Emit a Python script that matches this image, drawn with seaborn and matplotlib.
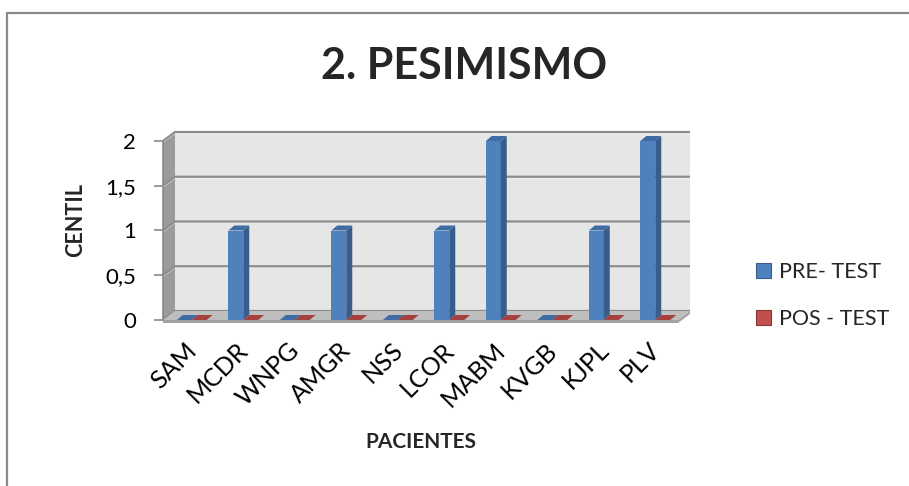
import matplotlib
matplotlib.use("Agg")
import matplotlib.pyplot as plt
import matplotlib.transforms as mtransforms
from matplotlib.patches import Polygon, Patch
from matplotlib.lines import Line2D
import pandas as pd
import seaborn as sns

# ---- data ----
pacientes = ["SAM", "MCDR", "WNPG", "AMGR", "NSS", "LCOR", "MABM", "KVGB", "KJPL", "PLV"]
pre_test = [0, 1, 0, 1, 0, 1, 2, 0, 1, 2]
pos_test = [0, 0, 0, 0, 0, 0, 0, 0, 0, 0]
series = ["PRE- TEST", "POS - TEST"]
y_ticks = [0, 0.5, 1, 1.5, 2]
y_tick_labels = ["0", "0,5", "1", "1,5", "2"]

df = pd.DataFrame({
    "Paciente": pacientes * 2,
    "Centil": pre_test + pos_test,
    "Prueba": [series[0]] * len(pacientes) + [series[1]] * len(pacientes),
})

# ---- style ----
sns.set_theme(style="white")
plt.rcParams["font.family"] = ["Lato", "DejaVu Sans"]

FRONT = {series[0]: "#4F81BD", series[1]: "#C0504D"}
SIDE = {series[0]: "#385D8A", series[1]: "#8C3836"}
TOP = {series[0]: "#3E6CA3", series[1]: "#A4403D"}
WALL = "#E6E6E6"
SIDE_WALL = "#9B9B9B"
FLOOR_TOP = "#BEBEBE"
FLOOR_FRONT = "#A3A3A3"
GRID = "#8C8C8C"

W, H = 909, 486
fig = plt.figure(figsize=(W / 100, H / 100), dpi=100)
fig.patch.set_facecolor("white")

# outer chart frame (top and left edges)
fig.add_artist(Line2D([7.5 / W, 7.5 / W], [0, 1 - 13 / H], transform=fig.transFigure,
                      color="#8A8A8A", lw=1.6))
fig.add_artist(Line2D([7.5 / W, 1], [1 - 13 / H, 1 - 13 / H], transform=fig.transFigure,
                      color="#8A8A8A", lw=1.6))

# front plane of the plot area (pixels)
PX0, PX1, PY0, PY1 = 163, 678, 320, 141
ax = fig.add_axes([PX0 / W, 1 - PY0 / H, (PX1 - PX0) / W, (PY0 - PY1) / H])
ax.patch.set_visible(False)

sns.barplot(data=df, x="Paciente", y="Centil", hue="Prueba", palette=FRONT,
            width=0.58, saturation=1, errorbar=None, legend=False, ax=ax,
            linewidth=0, zorder=5)
ax.set_xlim(-0.5 - 3 / 51.5, len(pacientes) - 0.5 - 3 / 51.5)
ax.set_ylim(0, 2)
for s in ax.spines.values():
    s.set_visible(False)
ax.grid(False)

ident = mtransforms.IdentityTransform()
DX, DY = 12, 9        # depth of the walls (px)
BX, BY = 6, 5         # depth of the bars (px)


def px(x, y):
    return ax.transData.transform((x, y))


def poly(pts, color, z):
    ax.add_patch(Polygon(pts, closed=True, facecolor=color, edgecolor="none", lw=0,
                         transform=ident, clip_on=False, zorder=z))


def line(xs, ys, color, lw, z):
    ax.add_line(Line2D(xs, ys, color=color, lw=lw, transform=ident, clip_on=False,
                       zorder=z, solid_capstyle="butt"))


xlo, xhi = ax.get_xlim()
xa, ya = px(xlo, 0)
xb, yt = px(xhi, 2)

# back wall
poly([(xa + DX, ya + DY), (xb + DX, ya + DY), (xb + DX, yt + DY), (xa + DX, yt + DY)], WALL, 0.1)
# side wall
poly([(xa, ya), (xa + DX, ya + DY), (xa + DX, yt + DY), (xa, yt)], SIDE_WALL, 0.2)

# gridlines across side wall and back wall
for v in y_ticks:
    _, yy = px(0, v)
    line([xa, xa + DX, xb + DX], [yy - 1, yy - 1 + DY, yy - 1 + DY], "#F4F4F4", 1.0, 0.3)
    line([xa, xa + DX, xb + DX], [yy, yy + DY, yy + DY], GRID, 1.6, 0.35)

# floor slab
poly([(xa, ya), (xb, ya), (xb + DX, ya + DY), (xa + DX, ya + DY)], FLOOR_TOP, 0.5)
poly([(xa, ya), (xb, ya), (xb + DX, ya + DY), (xb + DX, ya + DY - 3), (xb, ya - 3), (xa, ya - 3)],
     FLOOR_FRONT, 0.45)

# y axis line and ticks
line([xa, xa], [ya - 1, yt], "#8A8A8A", 1.2, 0.6)
for v in y_ticks:
    _, yy = px(0, v)
    line([xa - 9, xa], [yy, yy], "#8A8A8A", 1.2, 0.6)

# 3D faces for every bar
for i, cont in enumerate(ax.containers):
    name = series[i]
    for p in cont.patches:
        x0, w, h = p.get_x(), p.get_width(), p.get_height()
        l, b = px(x0, 0)
        r, t = px(x0 + w, h)
        if h > 0:
            poly([(r, b), (r + BX, b + BY), (r + BX, t + BY), (r, t)], SIDE[name], 6)
        poly([(l, t), (r, t), (r + BX, t + BY), (l + BX, t + BY)], TOP[name], 6)

# ticks and labels
ax.set_yticks(y_ticks)
ax.set_yticklabels(y_tick_labels, fontsize=16, color="black")
ax.tick_params(axis="y", length=0, pad=19.5)
ax.set_xticks(range(len(pacientes)))
ax.set_xticklabels(pacientes, rotation=45, ha="right", va="center",
                   rotation_mode="anchor", fontsize=18, color="black")
ax.tick_params(axis="x", length=0, pad=19)
shift = mtransforms.ScaledTranslation(1 / 100, 0, fig.dpi_scale_trans)
for lab in ax.get_xticklabels():
    lab.set_transform(lab.get_transform() + shift)

ax.set_xlabel("PACIENTES", fontsize=15, fontweight="bold")
ax.xaxis.set_label_coords(0.5, (PY0 - 448) / (PY0 - PY1))
ax.xaxis.label.set_va("baseline")
ax.set_ylabel("CENTIL", fontsize=15.5, fontweight="bold")
ax.yaxis.set_label_coords((86 - PX0) / (PX1 - PX0), (PY0 - 220) / (PY0 - PY1))

fig.text(464 / W, 1 - 79 / H, "2. PESIMISMO", ha="center", va="baseline",
         fontsize=31, fontweight="bold")

handles = [Patch(facecolor=FRONT[s], edgecolor=SIDE[s], lw=0.8) for s in series]
ax.legend(handles, series, loc="upper left", bbox_to_anchor=(756 / W, 1 - 262 / H),
          bbox_transform=fig.transFigure, frameon=False, fontsize=15.5,
          handlelength=0.7, handleheight=0.7, handletextpad=0.35, labelspacing=1.25,
          borderaxespad=0, borderpad=0)

fig.savefig("out.png", dpi=100)
